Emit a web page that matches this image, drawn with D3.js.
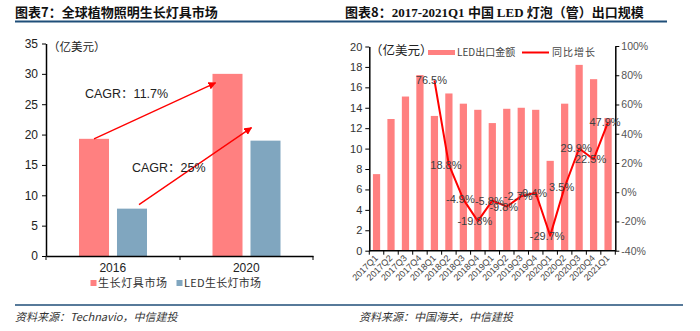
<!DOCTYPE html>
<html>
<head>
<meta charset="utf-8">
<script src="https://cdn.jsdelivr.net/npm/d3@7/dist/d3.min.js"></script>
<style>
  html, body { margin: 0; padding: 0; background: #fff; }
  svg { display: block; font-family: "Liberation Sans", Arial, "Noto Sans CJK SC", sans-serif; }
</style>
</head>
<body>
<svg id="chart" width="700" height="331"></svg>
<script>
// ---- Figure 7: global horticultural lighting market ----
const marketYears = ["2016", "2020"];
const marketSeries = ["生长灯具市场", "LED生长灯市场"];
const growLightMarket = [19.3, 30.0];
const ledGrowLightMarket = [7.8, 19.0];
const cagrLabels = ["CAGR：11.7%", "CAGR：25%"];
const leftTicks = [0, 5, 10, 15, 20, 25, 30, 35];

// ---- Figure 8: China LED bulb (tube) exports ----
const quarters = ["2017Q1","2017Q2","2017Q3","2017Q4","2018Q1","2018Q2","2018Q3","2018Q4",
                  "2019Q1","2019Q2","2019Q3","2019Q4","2020Q1","2020Q2","2020Q3","2020Q4","2021Q1"];
const exportValue = [7.5, 12.9, 15.1, 17.2, 13.2, 15.4, 14.4, 13.8,
                     12.5, 13.9, 14.0, 13.8, 8.8, 14.4, 18.2, 16.8, 13.0];
const yoyGrowth = [null, null, null, null, 76.5, 18.8, -4.9, -19.8,
                   -5.8, -9.8, -2.7, -0.4, -29.7, 3.5, 29.9, 22.5, 47.9];
const exportTicks = [0, 2, 4, 6, 8, 10, 12, 14, 16, 18, 20];
const growthTicks = [-40, -20, 0, 20, 40, 60, 80, 100];

const PINK = "#ff8080", BLUE = "#80a6bf", RED = "#ff0000", NAVY = "#1f4e79";
const CJK = "'Noto Sans CJK SC', sans-serif";
const svg = d3.select("#chart");

// Header and footer rules
svg.append("line").attr("x1", 15).attr("x2", 667).attr("y1", 21.5).attr("y2", 21.5)
  .attr("stroke", NAVY).attr("stroke-width", 2);
svg.append("line").attr("x1", 15).attr("x2", 683).attr("y1", 305).attr("y2", 305)
  .attr("stroke", NAVY).attr("stroke-width", 1.5);

// Titles
svg.append("text").attr("x", 15).attr("y", 17).attr("font-size", 13).attr("font-weight", "bold")
  .attr("fill", "#111").style("font-family", CJK).text("图表7：全球植物照明生长灯具市场");
const t8 = svg.append("text").attr("x", 345).attr("y", 17).attr("font-size", 13)
  .attr("font-weight", "bold").attr("fill", "#111");
t8.append("tspan").style("font-family", CJK).text("图表8：");
t8.append("tspan").style("font-family", "'Liberation Serif', serif").text("2017-2021Q1 ");
t8.append("tspan").style("font-family", CJK).text("中国 ");
t8.append("tspan").style("font-family", "'Liberation Serif', serif").text("LED ");
t8.append("tspan").style("font-family", CJK).text("灯泡（管）出口规模");

// Sources
svg.append("text").attr("x", 15).attr("y", 321).attr("font-size", 11).attr("font-style", "italic")
  .attr("fill", "#333").style("font-family", CJK).text("资料来源：Technavio，中信建投");
svg.append("text").attr("x", 359).attr("y", 321).attr("font-size", 11).attr("font-style", "italic")
  .attr("fill", "#333").style("font-family", CJK).text("资料来源：中国海关，中信建投");

// ================= Left chart =================
const yL = d3.scaleLinear().domain([0, 35]).range([256, 43.5]);
const x0 = d3.scaleBand().domain(marketYears).range([46, 313]);
const x1 = d3.scaleBand().domain(marketSeries).range([33, 101]).paddingInner(0.21);
const left = svg.append("g");

const marketRows = marketYears.map((yr, i) => ({ yr, vals: [growLightMarket[i], ledGrowLightMarket[i]] }));
left.selectAll("g.cat").data(marketRows).join("g").attr("class", "cat")
  .attr("transform", d => `translate(${x0(d.yr)},0)`)
  .selectAll("rect").data(d => d.vals.map((v, k) => ({ s: marketSeries[k], v })))
  .join("rect")
  .attr("x", d => x1(d.s)).attr("width", x1.bandwidth())
  .attr("y", d => yL(d.v)).attr("height", d => yL(0) - yL(d.v))
  .attr("fill", (d, k) => k === 0 ? PINK : BLUE);

const yAxisL = left.append("g").attr("transform", "translate(46,0)")
  .call(d3.axisLeft(yL).tickValues(leftTicks).tickSize(4).tickSizeOuter(0));
yAxisL.select(".domain").attr("stroke", "#000").attr("stroke-width", 1.5);
yAxisL.selectAll("text").attr("font-size", 12).attr("fill", "#222").attr("dx", -1);

const xAxisL = left.append("g").attr("transform", "translate(0,256)")
  .call(d3.axisBottom(x0).tickSize(0).tickPadding(7));
xAxisL.select(".domain").attr("stroke", "#000").attr("stroke-width", 1.5);
xAxisL.selectAll("text").attr("font-size", 12).attr("fill", "#222");
[46, 180, 313].forEach(x => left.append("line").attr("x1", x).attr("x2", x)
  .attr("y1", 256).attr("y2", 260).attr("stroke", "#000"));

left.append("text").attr("x", 48).attr("y", 51).attr("font-size", 11.5).attr("fill", "#222")
  .style("font-family", CJK).text("（亿美元）");

// CAGR arrows between the 2016 and 2020 bars
const defs = svg.append("defs");
defs.append("marker").attr("id", "arrow").attr("viewBox", "0 0 10 10").attr("refX", 9).attr("refY", 5)
  .attr("markerWidth", 6).attr("markerHeight", 6).attr("orient", "auto-start-reverse")
  .append("path").attr("d", "M0,0 L10,5 L0,10 z").attr("fill", RED);

const arrows = [
  { from: [x0("2016") + x1(marketSeries[0]) + x1.bandwidth() / 2, yL(growLightMarket[0])],
    to: [x0("2020") + x1(marketSeries[0]) + 3, yL(growLightMarket[1]) + 9] },
  { from: [x0("2016") + x1(marketSeries[1]) + x1.bandwidth() / 2 + 7, yL(ledGrowLightMarket[0]) - 4],
    to: [x0("2020") + x1(marketSeries[1]) + 1, yL(ledGrowLightMarket[1]) - 13] }
];
arrows.forEach(a => left.append("line")
  .attr("x1", a.from[0]).attr("y1", a.from[1]).attr("x2", a.to[0]).attr("y2", a.to[1])
  .attr("stroke", RED).attr("stroke-width", 1.3).attr("marker-end", "url(#arrow)"));

left.append("text").attr("x", 85).attr("y", 97.5).attr("font-size", 12.5).attr("fill", "#222").text(cagrLabels[0]);
left.append("text").attr("x", 132).attr("y", 172).attr("font-size", 12.5).attr("fill", "#222").text(cagrLabels[1]);

// Legend
const legL = left.append("g");
legL.append("rect").attr("x", 90.5).attr("y", 280).attr("width", 6).attr("height", 6).attr("fill", PINK);
legL.append("text").attr("x", 98).attr("y", 287).attr("font-size", 11).attr("fill", "#333")
  .attr("letter-spacing", 0.6).style("font-family", CJK).text(marketSeries[0]);
legL.append("rect").attr("x", 176.5).attr("y", 280).attr("width", 6).attr("height", 6).attr("fill", BLUE);
legL.append("text").attr("x", 184).attr("y", 287).attr("font-size", 11).attr("fill", "#333")
  .attr("letter-spacing", 0.3).style("font-family", CJK).text(marketSeries[1]);

// ================= Right chart =================
const right = svg.append("g");
const xq = d3.scaleBand().domain(quarters).range([369.3, 615.3]).paddingInner(0.5).paddingOuter(0.25);
const yV = d3.scaleLinear().domain([0, 20]).range([250.7, 46.5]);
const yG = d3.scaleLinear().domain([-40, 100]).range([250.7, 46]);

right.selectAll("rect.bar").data(quarters.map((q, i) => ({ q, v: exportValue[i] }))).join("rect")
  .attr("class", "bar").attr("x", d => xq(d.q)).attr("width", xq.bandwidth())
  .attr("y", d => yV(d.v)).attr("height", d => yV(0) - yV(d.v)).attr("fill", PINK);

const yAxisR1 = right.append("g").attr("transform", "translate(369.3,0)")
  .call(d3.axisLeft(yV).tickValues(exportTicks).tickSize(4).tickSizeOuter(0));
yAxisR1.select(".domain").attr("stroke", "#000").attr("stroke-width", 1.5);
yAxisR1.selectAll("text").attr("font-size", 11).attr("fill", "#333");

const yAxisR2 = right.append("g").attr("transform", "translate(615.3,0)")
  .call(d3.axisRight(yG).tickValues(growthTicks).tickSize(4).tickSizeOuter(0).tickFormat(d => d + "%"));
yAxisR2.select(".domain").attr("stroke", "#000").attr("stroke-width", 1.5);
yAxisR2.selectAll("text").attr("font-size", 10.5).attr("fill", "#555").attr("dx", -1);

const xAxisR = right.append("g").attr("transform", "translate(0,250.7)");
xAxisR.append("line").attr("x1", 369.3).attr("x2", 615.3).attr("stroke", "#000").attr("stroke-width", 1.5);
const stepQ = xq.step();
d3.range(quarters.length + 1).forEach(i => {
  const x = 369.3 + i * stepQ;
  xAxisR.append("line").attr("x1", x).attr("x2", x).attr("y1", 0).attr("y2", 4).attr("stroke", "#000");
});
xAxisR.selectAll("text.ql").data(quarters).join("text").attr("class", "ql")
  .attr("transform", d => `translate(${xq(d) + xq.bandwidth() / 2 + 2},${8}) rotate(-45)`)
  .attr("text-anchor", "end").attr("font-size", 9).attr("fill", "#444").text(d => d);

// YoY growth line
const growthPts = quarters.map((q, i) => ({ q, g: yoyGrowth[i] }));
const line = d3.line().defined(d => d.g !== null)
  .x(d => xq(d.q) + xq.bandwidth() / 2).y(d => yG(d.g));
right.append("path").datum(growthPts).attr("d", line)
  .attr("fill", "none").attr("stroke", RED).attr("stroke-width", 2).attr("stroke-linejoin", "round");

right.selectAll("text.gl").data(growthPts.filter(d => d.g !== null)).join("text").attr("class", "gl")
  .attr("x", d => xq(d.q) + xq.bandwidth() / 2 - 3).attr("y", d => yG(d.g) + 4)
  .attr("text-anchor", "middle").attr("font-size", 11).attr("fill", "#404040")
  .text(d => d.g.toFixed(1) + "%");

right.append("text").attr("x", 370).attr("y", 55).attr("font-size", 12.5).attr("fill", "#222")
  .style("font-family", CJK).text("（亿美元）");

// Legend
right.append("rect").attr("x", 428).attr("y", 50).attr("width", 27).attr("height", 5).attr("fill", PINK);
right.append("text").attr("x", 457).attr("y", 56).attr("font-size", 10).attr("fill", "#444")
  .style("font-family", CJK).text("LED出口金额");
right.append("line").attr("x1", 522).attr("x2", 549).attr("y1", 52.5).attr("y2", 52.5)
  .attr("stroke", RED).attr("stroke-width", 2);
right.append("text").attr("x", 552).attr("y", 56).attr("font-size", 10).attr("fill", "#444")
  .attr("letter-spacing", 1).style("font-family", CJK).text("同比增长");
</script>
</body>
</html>
